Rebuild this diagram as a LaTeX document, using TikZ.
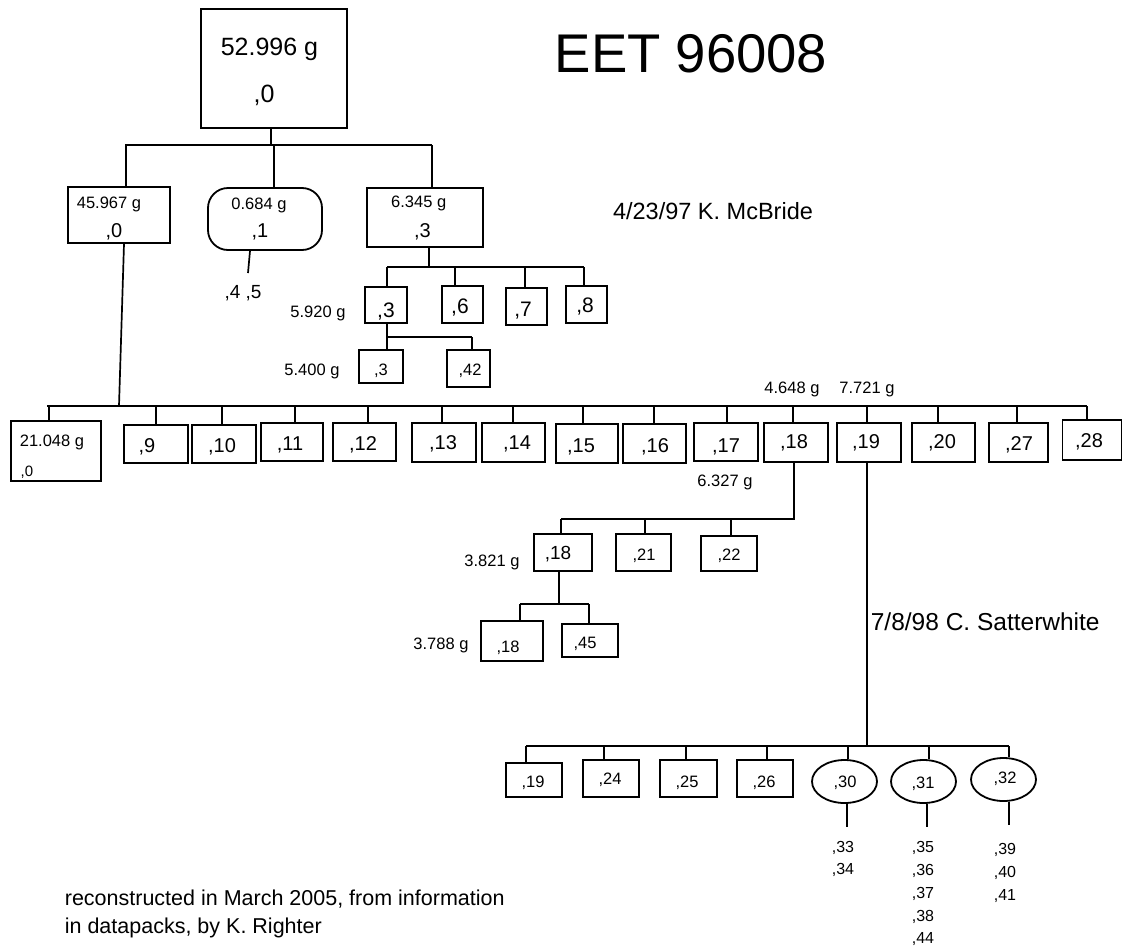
\documentclass[tikz,border=0pt]{standalone}
\usepackage{fontspec}
\setmainfont{Liberation Sans}
\usetikzlibrary{shapes.geometric}
\begin{document}
\begin{tikzpicture}[x=1pt,y=-1pt,line width=1.7pt,
  bx/.style={draw,rectangle,inner sep=0pt,line width=1.8pt},
  ov/.style={draw,ellipse,inner sep=0pt,line width=1.8pt},
  lb/.style={anchor=base,inner sep=0pt},
  lw/.style={anchor=base west,inner sep=0pt},
  sz/.style={font=\fontsize{#1}{#1}\selectfont}]
\useasboundingbox (0,0) rectangle (1124,945);

% ---------- boxes ----------
\node[bx,minimum width=146,minimum height=119] (top) at (274,68.5) {};
\node[bx,minimum width=102,minimum height=56] (n45) at (119,215) {};
\node[draw,rectangle,rounded corners=20pt,inner sep=0pt,line width=1.8pt,minimum width=114,minimum height=62] (n1) at (265,219) {};
\node[bx,minimum width=116,minimum height=59] (n63) at (425,217.5) {};
\node[bx,minimum width=42,minimum height=36] (b3) at (386,305) {};
\node[bx,minimum width=41,minimum height=37] (b6) at (462.5,304.5) {};
\node[bx,minimum width=41,minimum height=37] (b7) at (526.5,306.5) {};
\node[bx,minimum width=41,minimum height=37] (b8) at (586.5,304.5) {};
\node[bx,minimum width=44,minimum height=33] (b3b) at (381,366.5) {};
\node[bx,minimum width=43,minimum height=37] (b42) at (468.5,368.5) {};
\node[bx,minimum width=90,minimum height=60] (m0) at (56,451) {};
\node[bx,minimum width=64,minimum height=38] (m9) at (156,444) {};
\node[bx,minimum width=64,minimum height=38] (m10) at (224,444) {};
\node[bx,minimum width=62,minimum height=38] (m11) at (292,442) {};
\node[bx,minimum width=63,minimum height=38] (m12) at (364.5,442) {};
\node[bx,minimum width=64,minimum height=39] (m13) at (444,442.5) {};
\node[bx,minimum width=63,minimum height=39] (m14) at (513.5,442.5) {};
\node[bx,minimum width=62,minimum height=39] (m15) at (587,443.5) {};
\node[bx,minimum width=63,minimum height=39] (m16) at (654.5,443.5) {};
\node[bx,minimum width=64,minimum height=38] (m17) at (726,442) {};
\node[bx,minimum width=64,minimum height=39] (m18) at (796,442.5) {};
\node[bx,minimum width=64,minimum height=39] (m19) at (869,442.5) {};
\node[bx,minimum width=63,minimum height=39] (m20) at (943.5,442.5) {};
\node[bx,minimum width=59,minimum height=39] (m27) at (1018.5,442.5) {};
\node[bx,minimum width=59,minimum height=40] (m28) at (1092,440) {};
\node[bx,minimum width=58,minimum height=37] (s18) at (563,552.5) {};
\node[bx,minimum width=55,minimum height=37] (s21) at (643.5,552.5) {};
\node[bx,minimum width=56,minimum height=35] (s22) at (729,553.5) {};
\node[bx,minimum width=62,minimum height=40] (t18) at (512,641) {};
\node[bx,minimum width=56,minimum height=33] (t45) at (590,640.5) {};
\node[bx,minimum width=56,minimum height=34] (u19) at (534,780) {};
\node[bx,minimum width=56,minimum height=37] (u24) at (611,778.5) {};
\node[bx,minimum width=57,minimum height=37] (u25) at (688.5,778.5) {};
\node[bx,minimum width=56,minimum height=37] (u26) at (765,778.5) {};
\node[ov,minimum width=65,minimum height=43] (e30) at (844.5,781.5) {};
\node[ov,minimum width=65,minimum height=43] (e31) at (923.5,781.5) {};
\node[ov,minimum width=65,minimum height=43] (e32) at (1003.5,779.5) {};

% ---------- connectors ----------
% top group
\coordinate (A) at (271,145);
\coordinate (A1) at (126,145); \coordinate (A2) at (274,145); \coordinate (A3) at (432,145);
\draw (top.south -| A) -- (A);
\draw (125,145) coordinate (AL) -- (432,145) coordinate (AR);
\draw (A1) -- (A1 |- n45.north);
\draw (A2) -- (A2 |- n1.north);
\draw (A3) -- (A3 |- n63.north);
% 0.684 stem
\coordinate (n1e) at (248,273);
\draw ([xshift=-15pt]n1.south) -- (n1e);
% 6.345 group
\coordinate (B) at (429,267);
\coordinate (B1) at (387,267); \coordinate (B2) at (455,267); \coordinate (B3) at (525,267); \coordinate (B4) at (584,267);
\draw (n63.south -| B) -- (B);
\draw (B1) -- (B4);
\draw (B1) -- (B1 |- b3.north);
\draw (B2) -- (B2 |- b6.north);
\draw (B3) -- (B3 |- b7.north);
\draw (B4) -- (B4 |- b8.north);
% ,3 group
\coordinate (C1) at (387,337); \coordinate (C2) at (472,337);
\draw (b3.south -| C1) -- (C1) -- (C2);
\draw (C1) -- (C1 |- b3b.north);
\draw (C2) -- (C2 |- b42.north);
% middle row
\coordinate (D) at (119,406);
\draw ([xshift=5pt]n45.south) -- (D);
\draw (47,406) coordinate (DL) -- (1087,406) coordinate (DR);
\foreach \x/\n in {49/m0,156/m9,222/m10,295/m11,368/m12,442/m13,513/m14,583/m15,654/m16,727/m17,793/m18,867/m19,938/m20,1017/m27,1087/m28}
  {\coordinate (d) at (\x,406); \draw (d) -- (d |- \n.north);}
% ,18 group
\coordinate (E) at (794,519);
\draw (m18.south -| E) -- (E) -- (561,519) coordinate (EL);
\foreach \x/\n in {561/s18,645/s21,731/s22}
  {\coordinate (d) at (\x,519); \draw (d) -- (d |- \n.north);}
% ,18 sub group
\coordinate (F) at (559,604);
\draw (s18.south -| F) -- (F);
\draw (520,604) coordinate (FL) -- (589,604) coordinate (FR);
\draw (FL) -- (FL |- t18.north);
\draw (FR) -- (FR |- t45.north);
% ,19 group
\coordinate (G) at (867,746);
\draw (m19.south -| G) -- (G);
\draw (526,746) coordinate (GL) -- (1009,746) coordinate (GR);
\foreach \x/\n in {526/u19,604/u24,686/u25,767/u26,848/e30,929/e31,1009/e32}
  {\coordinate (d) at (\x,746); \draw (d) -- (d |- \n.north);}
% oval stems
\coordinate (h30) at (847,827); \coordinate (h31) at (927,827); \coordinate (h32) at (1009,825);
\draw (e30.south -| h30) -- (h30);
\draw (e31.south -| h31) -- (h31);
\draw (e32.south -| h32) -- (h32);

% ---------- texts ----------
\node[lb,sz=25] (tA) at (269.5,55) {52.996 g};
\node[lb,sz=25] (tB) at (264,102) {,0};
\node[lb,sz=54.5] (title) at (691,72) {EET 96008};
\node[lb,sz=23.5] (mcb) at (713,219) {4/23/97 K. McBride};
\node[lb,sz=16.5] (t45a) at (109,208) {45.967 g};
\node[lb,sz=20] (t45b) at (114,237) {,0};
\node[lb,sz=16.5] (t1a) at (259,209) {0.684 g};
\node[lb,sz=20] (t1b) at (260,237) {,1};
\node[lb,sz=19] (t45x) at (243,298) {,4 ,5};
\node[lb,sz=16.5] (t63a) at (418.7,207) {6.345 g};
\node[lb,sz=20] (t63b) at (422.5,237) {,3};
\node[lb,sz=21] (tb3) at (386,317) {,3};
\node[lb,sz=21] (tb6) at (460,313) {,6};
\node[lb,sz=21] (tb7) at (523,316) {,7};
\node[lb,sz=21] (tb8) at (585,312) {,8};
\node[lb,sz=16.5] (w592) at (318,317) {5.920 g};
\node[lb,sz=16.5] (tb3b) at (381,375) {,3};
\node[lb,sz=16.5] (tb42) at (470,375) {,42};
\node[lb,sz=16.5] (w540) at (312,375) {5.400 g};
\node[lb,sz=16.5] (tm0a) at (52,446) {21.048 g};
\node[lb,sz=15] (tm0b) at (27,476) {,0};
\foreach \x/\y/\t/\n in {147/452/{,9}/q9,222/452/{,10}/q10,290/450/{,11}/q11,363/450/{,12}/q12,443/449/{,13}/q13,517/449/{,14}/q14,581/452/{,15}/q15,655/452/{,16}/q16,726/452/{,17}/q17,794/448/{,18}/q18,866/448/{,19}/q19,942/448/{,20}/q20,1019/450/{,27}/q27,1089/447/{,28}/q28}
  {\node[lb,sz=20] (\n) at (\x,\y) {\t};}
\node[lb,sz=16.5] (w6327) at (725,486) {6.327 g};
\node[lb,sz=16.5] (w4648) at (792,393) {4.648 g};
\node[lb,sz=16.5] (w7721) at (867,393) {7.721 g};
\node[lb,sz=19] (ts18) at (558,559) {,18};
\node[lb,sz=16.5] (ts21) at (644,560) {,21};
\node[lb,sz=16.5] (ts22) at (729,560) {,22};
\node[lb,sz=16.5] (w3821) at (492,566) {3.821 g};
\node[lb,sz=16.5] (tt18) at (508,652) {,18};
\node[lb,sz=16.5] (tt45) at (585,648) {,45};
\node[lb,sz=16.5] (w3788) at (441,649) {3.788 g};
\node[lw,sz=24.5] (sat) at (870,630) {7/8/98 C. Satterwhite};
\node[lb,sz=16.5] (tu19) at (533,787) {,19};
\node[lb,sz=16.5] (tu24) at (610,784) {,24};
\node[lb,sz=16.5] (tu25) at (687,787) {,25};
\node[lb,sz=16.5] (tu26) at (764,787) {,26};
\node[lb,sz=16.5] (te30) at (845,787) {,30};
\node[lb,sz=16.5] (te31) at (923,788) {,31};
\node[lb,sz=16.5] (te32) at (1005,783) {,32};
\foreach \x/\y/\t/\n in {843/852/{,33}/r33,843/874/{,34}/r34,923/852/{,35}/r35,923/875/{,36}/r36,923/898/{,37}/r37,923/921/{,38}/r38,923/943/{,44}/r44,1005/854/{,39}/r39,1005/877/{,40}/r40,1005/900/{,41}/r41}
  {\node[lb,sz=16] (\n) at (\x,\y) {\t};}
\node[lw,sz=21.5] (fn1) at (64,905) {reconstructed in March 2005, from information};
\node[lw,sz=21.5] (fn2) at (64,933) {in datapacks, by K. Righter};
\end{tikzpicture}
\end{document}
